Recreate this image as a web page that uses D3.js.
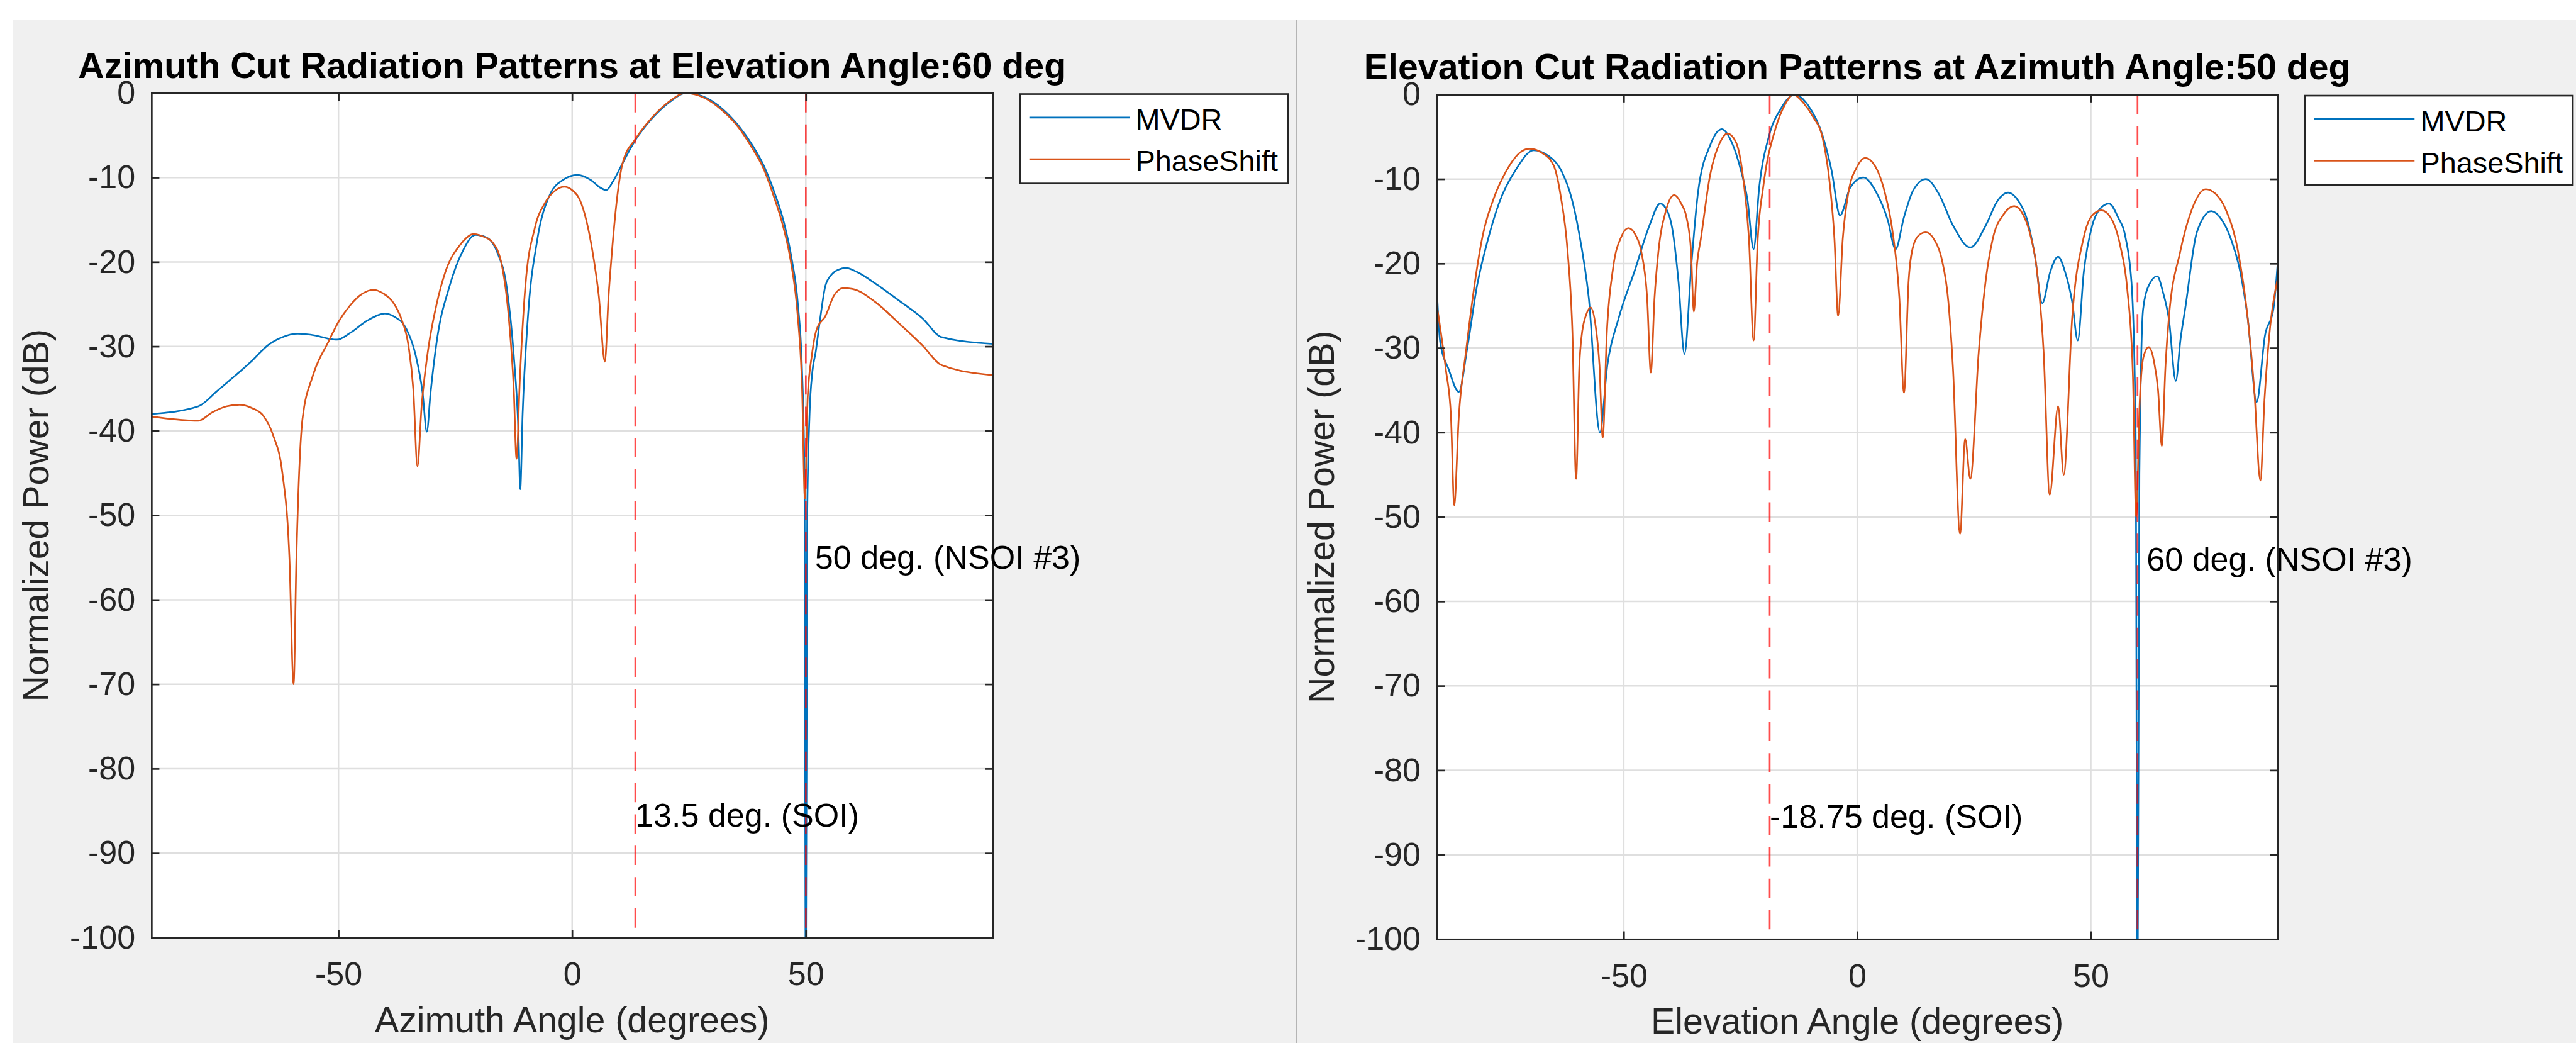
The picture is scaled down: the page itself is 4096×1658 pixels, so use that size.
<!DOCTYPE html>
<html>
<head>
<meta charset="utf-8">
<script src="https://cdn.jsdelivr.net/npm/d3@7"></script>
<style>
  html, body { margin: 0; padding: 0; background: #fff; }
  svg { display: block; }
</style>
</head>
<body>
<div id="chart"></div>
<script>
// ---- values ----
const seriesNames = ["MVDR", "PhaseShift"];
const seriesColors = ["#0072bd", "#d95319"];

const xTicks = [-50, 0, 50];
const yTicks = [0, -10, -20, -30, -40, -50, -60, -70, -80, -90, -100];

const titles = ["Azimuth Cut Radiation Patterns at Elevation Angle:60 deg",
                "Elevation Cut Radiation Patterns at Azimuth Angle:50 deg"];
const xLabels = ["Azimuth Angle (degrees)", "Elevation Angle (degrees)"];
const yLabel = "Normalized Power (dB)";

// reference direction markers (dashed lines) and their notes
const soiAngles = [13.5, -18.75];
const soiLabels = ["13.5 deg. (SOI)", "-18.75 deg. (SOI)"];
const nsoiAngles = [50, 60];
const nsoiLabels = [" 50 deg. (NSOI #3)", " 60 deg. (NSOI #3)"];
const soiLabelDb = -85.5, nsoiLabelDb = -55;

// azimuth cut, MVDR
const azMvdrAngle = [-90, -80, -76, -72.6, -68.5, -65.2, -62, -58.7, -55, -52, -50.3, -47.5, -44, -41, -40.1,
  -38, -35.5, -33.5, -32, -31.1, -30.3, -29, -26.2, -23.5, -20.7, -18, -16, -14, -12.5, -11.5, -11.1, -10.6,
  -9.5, -7.5, -4.9, -2, 1.1, 4, 6, 7.3, 8.8, 10.8, 13.6, 16, 18.3, 21, 24.3, 28, 32.2, 35.5, 38.7, 41, 43.3,
  45.3, 47, 48.3, 49.2, 49.7, 50, 50.3, 50.8, 51.4, 52.1, 53, 54.2, 55.5, 57, 58.6, 61, 65, 70, 75, 79, 90];
const azMvdrPower = [-38.0, -37.1, -35.3, -33.7, -31.7, -29.9, -28.9, -28.5, -28.7, -29.1, -29.2, -28.4, -27.0, -26.2, -26.1,
  -26.5, -27.9, -31.0, -35.5, -40.1, -35.5, -29.5, -22.8, -18.8, -16.8, -17.2, -18.9, -23, -31, -40, -46.9, -38,
  -26.8, -17.5, -12.2, -10.3, -9.7, -10.3, -11.2, -11.5, -10.4, -8.3, -5.5, -3.7, -2.3, -1.0, 0, -0.4, -1.9, -3.8, -6.3, -8.6, -11.8,
  -15.3, -19.7, -25, -33, -45, -110, -50, -38, -33, -30.7, -27, -22.8, -21.5, -20.9, -20.7, -21.2, -22.6, -24.6, -26.7, -28.9, -29.7];

// azimuth cut, PhaseShift
const azPsAngle = [-90, -80, -77, -74, -71.2, -68.5, -66.1, -64, -62, -60.5, -59.6, -59, -57.7, -55.5, -52.2,
  -50, -47.6, -45, -42.5, -40.5, -38.3, -36.5, -35, -34, -33.1, -32.2, -30.9, -29, -27.2, -24, -21.1, -19, -17,
  -15, -13.5, -12.5, -11.9, -11.2, -10, -8, -5.8, -3.5, -1.7, 0, 1.6, 3, 4.4, 5.7, 7.0, 7.8, 8.5, 9.6, 10.8,
  13.6, 16, 18.3, 21, 24.3, 28, 32, 35.5, 38.5, 41, 43, 45, 46.8, 48.2, 49.2, 49.8, 50.4, 51.3, 52.3, 54.2, 56,
  58, 60, 65, 70, 75, 79, 90];
const azPsPower = [-38.3, -38.8, -37.8, -37.1, -36.9, -37.3, -38.2, -40.5, -45, -55, -70, -55, -38.6, -33.5, -29.5,
  -27.1, -25.2, -23.8, -23.3, -23.7, -24.8, -26.8, -30, -35, -44.2, -37, -30.7, -25, -21.3, -18, -16.7, -17, -17.7,
  -20.5, -27, -35, -43.3, -34, -22.8, -16, -13.0, -11.5, -11.1, -11.5, -12.6, -15, -18.9, -24, -31.8, -24, -18.9, -12.5, -8.3,
  -5.4, -3.6, -2.2, -0.9, 0, -0.5, -2.0, -4.0, -6.5, -9.0, -12.0, -15.5, -20.0, -26, -35, -48, -36, -31, -28, -26.4, -24,
  -23.1, -23.2, -24.8, -27.3, -29.9, -32.2, -33.4];

// elevation cut, MVDR
const elMvdrAngle = [-90, -89.3, -87.5, -85.3, -83.5, -81.4, -79, -76.6, -73, -69.3, -66, -63.2, -61.2, -59.6, -57.5,
  -55.1, -53.5, -51.1, -47.5, -44.5, -42.2, -40.5, -39.6, -38.3, -37.0, -35.5, -34.1, -31.5, -29.0, -27, -25.0,
  -23.5, -22.2, -21, -18.9, -16.5, -13.4, -10.5, -7.4, -5.5, -3.7, -1.5, 1.3, 4, 6.5, 8.2, 10, 12, 14.7, 17.5,
  20.5, 24.2, 27.5, 30, 32.3, 34.5, 36.3, 38, 39.6, 41.3, 43.0, 44.5, 46, 47.2, 48.5, 50.3, 52, 53.9, 55.8, 57.5,
  58.8, 59.6, 60, 60.4, 61.2, 62.5, 64.2, 65.5, 66.7, 68.2, 69.2, 70.3, 72.7, 75.8, 78, 80, 82, 83.6, 85.5, 87.3,
  89.1, 90];
const elMvdrPower = [-23.2, -29.3, -32.5, -35.2, -30, -22.6, -17, -12.7, -8.8, -6.6, -7.3, -9.2, -12.2, -16.3, -24,
  -40.0, -32, -26.5, -20.6, -15.5, -12.9, -14, -15.9, -22, -30.7, -20, -11.6, -6.0, -4.1, -5.5, -8.8,
  -12.5, -18.3, -11, -4.9, -1.8, 0, -1.3, -4.9, -9, -14.3, -11.0, -9.8, -11.5, -14.8, -18.3, -14.5, -11.3, -10.0, -11.8,
  -15.5, -18.1, -15.5, -12.6, -11.6, -12.6, -14.7, -19, -24.7, -21, -19.2, -21, -24.5, -29.1, -21, -15.5, -13.5, -12.9, -14.5, -17.1,
  -23, -40, -110, -45, -25.4, -22.5, -21.5, -23.5, -26.5, -33.9, -29, -25.0, -16.3, -13.8, -14.8, -17.1, -21, -26.5, -36.4, -28.5,
  -25.4, -20];

// elevation cut, PhaseShift
const elPsAngle = [-90, -88.1, -87, -86.3, -85.3, -83.8, -80.2, -77.5, -75.3, -72.5, -70.2, -67.5, -65.0, -63.5, -62.0,
  -61, -60.2, -59.5, -59.0, -58, -57.1, -56, -55.2, -54.5, -53.6, -52.3, -50.5, -49.0, -47.5, -46.2,
  -45, -44.2, -43.4, -42.6, -41, -39.2, -37.7, -36.5, -35.6, -35.0, -34.3, -33.5, -31.5, -29.5, -27.8,
  -26, -24.4, -23.2, -22.2, -21.3, -20.1, -17.5, -15.5, -13.7, -11.5, -9.5, -7.4, -5.8, -4.9, -4.1,
  -3.1, -1.9, 0, 1.7, 3.5, 5.9, 7.5, 9, 10.0, 11, 12.0, 13.3, 14.7, 16.5, 18.1,
  19.5, 20.5, 22.0, 23.1, 24.2, 26.0, 27.5, 29.0, 31.3, 33.6, 35.5, 36.9, 38.7, 39.9, 41.2,
  43.0, 44.2, 46.0, 48.4, 50.3, 52.3, 54.3, 56.3, 57.8, 59, 59.7, 60.5, 61.3, 62.4, 63.5,
  64.4, 65.2, 66, 66.7, 69.1, 71.5, 74.6, 76.8, 78.8, 81.5, 83.6, 85, 86.3, 87.2, 87.9, 90];
const elPsPower = [-25.0, -32.5, -38, -48.6, -38, -30.5, -16.7, -11.8, -9.2, -7.0, -6.4, -6.9, -8.4, -12, -18.7,
  -28, -45.5, -32, -28.5, -26, -25.2, -27.5, -32, -40.6, -28, -20.6, -16.8, -15.8, -16.6, -18.7,
  -24, -32.9, -24, -18.7, -13.8, -11.9, -12.9, -14.7, -18.5, -25.7, -20, -17.1, -9.5, -5.8, -4.6,
  -5.6, -10.0, -17, -29.1, -17, -10.8, -4.0, -1.2, 0, -1, -2.6, -5.2, -11, -17, -26.2,
  -17, -11.6, -8.5, -7.5, -8.2, -11.6, -16, -24, -35.3, -22, -17.9, -16.6, -16.3, -17.2, -19.5,
  -24.5, -32.5, -52.0, -40.8, -45.5, -30.5, -22, -17.1, -14.2, -13.2, -14.2, -16.3, -22, -30.5, -47.4,
  -36.9, -45.0, -26.5, -17.1, -14.3, -13.7, -14.6, -17.9, -23, -33, -50, -36, -31, -29.9, -31.5,
  -35, -41.6, -32, -26.5, -18.7, -13.8, -11.2, -11.8, -13.5, -18.5, -26.5, -35, -45.7, -36, -30.5, -21.8];

const cutAngles = [[azMvdrAngle, azPsAngle], [elMvdrAngle, elPsAngle]];
const cutPowers = [[azMvdrPower, azPsPower], [elMvdrPower, elPsPower]];

// ---- layout (in reference pixels, the whole drawing is scaled down) ----
const W = 4096, H = 1658;
const S = W / 4930;
const FONT = "'Liberation Sans', Arial, Helvetica, sans-serif";
const INK = "#262626";

const boxes = [
  { left: 290, right: 1900, top: 178, bottom: 1794 },
  { left: 2750, right: 4359, top: 181, bottom: 1797 }
];

let svg = d3.select("#chart")
  .append("svg")
  .attr("width", W)
  .attr("height", H)
  .style("font-family", FONT);

svg.append("rect").attr("width", W).attr("height", H).attr("fill", "#fff");

let root = svg.append("g").attr("transform", `scale(${S})`);

// the two grey panels with a divider between them
root.append("rect").attr("x", 24).attr("y", 38).attr("width", 2456).attr("height", 1958).attr("fill", "#f0f0f0");
root.append("rect").attr("x", 2482).attr("y", 38).attr("width", 2448).attr("height", 1958).attr("fill", "#f0f0f0");
root.append("line")
  .attr("x1", 2481).attr("x2", 2481).attr("y1", 38).attr("y2", 1996)
  .attr("stroke", "#b4b4b4").attr("stroke-width", 2);

boxes.forEach((b, i) => {
  let x = d3.scaleLinear().domain([-90, 90]).range([b.left, b.right]);
  let y = d3.scaleLinear().domain([-100, 0]).range([b.bottom, b.top]);

  let g = root.append("g");

  g.append("rect") // white plot area
    .attr("x", b.left).attr("y", b.top)
    .attr("width", b.right - b.left).attr("height", b.bottom - b.top)
    .attr("fill", "#fff");

  // grid
  g.append("g").selectAll("line").data(yTicks).join("line")
    .attr("x1", b.left).attr("x2", b.right)
    .attr("y1", d => y(d)).attr("y2", d => y(d))
    .attr("stroke", "#dfdfdf").attr("stroke-width", 3);
  g.append("g").selectAll("line").data(xTicks).join("line")
    .attr("x1", d => x(d)).attr("x2", d => x(d))
    .attr("y1", b.top).attr("y2", b.bottom)
    .attr("stroke", "#dfdfdf").attr("stroke-width", 3);

  // clip everything inside the axes
  let clipId = "clip" + i;
  g.append("clipPath").attr("id", clipId)
    .append("rect")
    .attr("x", b.left).attr("y", b.top)
    .attr("width", b.right - b.left).attr("height", b.bottom - b.top);

  let plot = g.append("g").attr("clip-path", `url(#${clipId})`);

  let line = d3.line()
    .x(d => x(d[0]))
    .y(d => y(d[1]))
    .curve(d3.curveMonotoneX);

  seriesNames.forEach((name, k) => {
    let pts = cutAngles[i][k].map((a, j) => [a, cutPowers[i][k][j]]);
    plot.append("path")
      .datum(pts)
      .attr("d", line)
      .attr("fill", "none")
      .attr("stroke", seriesColors[k])
      .attr("stroke-width", 3.2)
      .attr("stroke-linejoin", "round");
  });

  // dashed marker lines
  plot.selectAll(".marker")
    .data([soiAngles[i], nsoiAngles[i]])
    .join("line")
    .attr("class", "marker")
    .attr("x1", d => x(d)).attr("x2", d => x(d))
    .attr("y1", y(0)).attr("y2", y(-100))
    .attr("stroke", "#ff0000").attr("stroke-opacity", 0.7)
    .attr("stroke-width", 3.2)
    .attr("stroke-dasharray", "37 23");

  // axes, ticks pointing inward like matlab
  let fmt = d => String(d);
  let ax = [
    g.append("g").attr("transform", `translate(0,${b.bottom})`)
      .call(d3.axisBottom(x).tickValues(xTicks).tickFormat(fmt).tickSizeInner(-15).tickSizeOuter(0).tickPadding(46.5)),
    g.append("g").attr("transform", `translate(0,${b.top})`)
      .call(d3.axisTop(x).tickValues(xTicks).tickFormat(() => "").tickSizeInner(-15).tickSizeOuter(0)),
    g.append("g").attr("transform", `translate(${b.left},0)`)
      .call(d3.axisLeft(y).tickValues(yTicks).tickFormat(fmt).tickSizeInner(-15).tickSizeOuter(0).tickPadding(31)),
    g.append("g").attr("transform", `translate(${b.right},0)`)
      .call(d3.axisRight(y).tickValues(yTicks).tickFormat(() => "").tickSizeInner(-15).tickSizeOuter(0))
  ];
  ax.forEach(a => {
    a.attr("font-family", FONT).attr("font-size", 62.7);
    a.select(".domain").attr("stroke", INK).attr("stroke-width", 3.2).attr("stroke-linecap", "square");
    a.selectAll(".tick line").attr("stroke", INK).attr("stroke-width", 3.2);
    a.selectAll(".tick text").attr("fill", INK);
  });

  // notes next to the marker lines
  g.append("text")
    .attr("x", x(soiAngles[i])).attr("y", y(soiLabelDb))
    .attr("dominant-baseline", "central")
    .attr("font-size", 62.7).attr("fill", "#000")
    .text(soiLabels[i]);
  g.append("text")
    .attr("x", x(nsoiAngles[i])).attr("y", y(nsoiLabelDb))
    .attr("dominant-baseline", "central")
    .attr("font-size", 62.7).attr("fill", "#000")
    .style("white-space", "pre")
    .text(nsoiLabels[i]);

  // title and axis labels
  let cx = (b.left + b.right) / 2, cy = (b.top + b.bottom) / 2;
  g.append("text")
    .attr("x", cx).attr("y", b.top - 29)
    .attr("text-anchor", "middle")
    .attr("font-size", 69).attr("font-weight", "bold").attr("fill", "#000")
    .text(titles[i]);
  g.append("text")
    .attr("x", cx).attr("y", b.bottom + 181)
    .attr("text-anchor", "middle")
    .attr("font-size", 69).attr("fill", INK)
    .text(xLabels[i]);
  g.append("text")
    .attr("transform", `translate(${b.left - 197},${cy}) rotate(-90)`)
    .attr("text-anchor", "middle")
    .attr("font-size", 69).attr("fill", INK)
    .text(yLabel);

  // legend
  let lx = b.right + 52, ly = b.top + 2;
  let legend = g.append("g").attr("transform", `translate(${lx},${ly})`);
  legend.append("rect")
    .attr("width", 513).attr("height", 171)
    .attr("fill", "#fff").attr("stroke", INK).attr("stroke-width", 3.2);
  seriesNames.forEach((name, k) => {
    let rowY = 45 + k * 79.5;
    legend.append("line")
      .attr("x1", 18).attr("x2", 210).attr("y1", rowY).attr("y2", rowY)
      .attr("stroke", seriesColors[k]).attr("stroke-width", 3.2);
    legend.append("text")
      .attr("x", 221).attr("y", rowY + 23)
      .attr("font-size", 56.4).attr("fill", "#000")
      .text(name);
  });
});
</script>
</body>
</html>
